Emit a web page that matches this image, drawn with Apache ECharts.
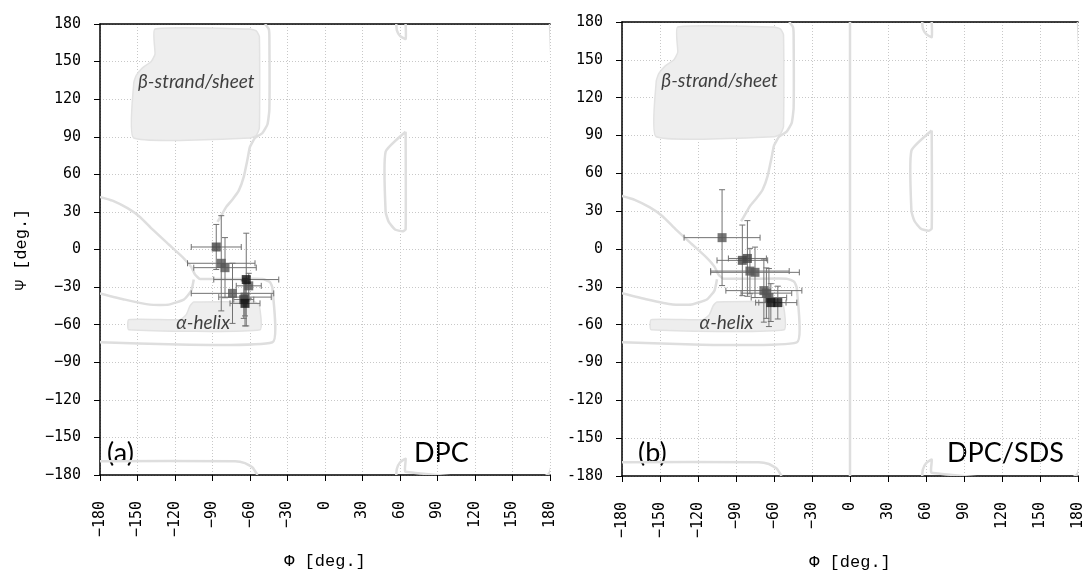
<!DOCTYPE html>
<html>
<head>
<meta charset="utf-8">
<script src="https://cdn.jsdelivr.net/npm/echarts@6/dist/echarts.min.js"></script>
<style>
  html, body { margin: 0; padding: 0; background: #fff; }
  #main { width: 1082px; height: 572px; }
</style>
</head>
<body>
<div id="main"></div>
<script>
// 面板 (a) DPC —— phi / psi 及误差
var phiA    = [-87, -83, -80, -61, -74, -64, -65, -63, -64];
var psiA    = [2, -11, -14.5, -29, -35, -38, -40, -24, -43];
var phiErrA = [20, 27, 25, 10, 33, 21, 8, 26, 12];
var psiErrA = [18, 38, 24, 10, 24, 15, 15, 37, 18];
var shadeA  = ['#444', '#555', '#555', '#555', '#555', '#555', '#444', '#111', '#111'];

// 面板 (b) DPC/SDS
var phiB    = [-101, -85, -81, -79, -75, -68, -66, -64, -62.5, -57];
var psiB    = [9, -9, -7.5, -17.5, -18.5, -33, -35, -38.5, -42.5, -42.5];
var phiErrB = [30, 20, 15, 31, 35, 30, 20, 14, 12, 15];
var psiErrB = [38, 28, 30, 18, 20, 25, 20, 23, 15, 13];
var shadeB  = ['#555', '#444', '#444', '#555', '#555', '#555', '#555', '#555', '#111', '#111'];

// 坐标轴刻度
var tickMin = -180, tickMax = 180, tickStep = 30;

// Ramachandran 背景区域 (phi, psi)
var betaFill = [[-136,176],[-60,176],[-55,174.5],[-52.5,170],[-52.5,97],[-55,91],[-60,89],[-153,89],
  [-153,133],[-151,139],[-146,145],[-139,150],[-136,156]];
var alphaFill = [[-157,-56],[-116,-56],[-111,-52],[-108,-45],[-105,-42],[-56,-42],[-52.5,-45],[-52,-64],[-157,-64]];
var outlineUpper = [[-48,180],[-45,176],[-44.5,170],[-44.5,112],[-46,100],[-50,93],[-56,89],[-60,82],
  [-62,72],[-65,58],[-69,47],[-74,40],[-79,34],[-83,27],[-86,22]];
var outlineAlpha = [[-180,42],[-170,39],[-158,33],[-148,26],[-138,16],[-125,4],[-113,-7],[-107,-14],
  [-104,-20],[-100,-23.5],[-50,-23.5],[-44,-26],[-42,-31],[-42,-74],[-180,-74]];
var innerAlpha = [[-180,-35],[-160,-40],[-140,-44],[-125,-44],[-113,-40],[-107,-33],[-105,-24]];
var dShape = [[64.5,94],[48.5,78],[48.5,30],[51,22],[56,16],[62,14.5],[64.5,16],[64.5,94]];
var topNotch = [[57,180],[57.5,175],[60,170.5],[64.5,168],[64.5,180]];
var bottomRight = [[57,-180],[57.5,-175],[60,-170],[64.5,-167],[64.5,-177.5],[180,-177.5],[180,180]];
var bottomLeft = [[-180,-169],[-72,-169],[-64,-170.5],[-58,-174],[-54,-180]];
var zeroLine = [[0,-180],[0,180]];

(function() {
  var myChart = echarts.init(document.getElementById('main'));

  var fills = [betaFill, alphaFill];
  var linesA = [outlineUpper, outlineAlpha, innerAlpha, dShape, topNotch, bottomRight, bottomLeft];
  var linesB = linesA.concat([zeroLine]);

  function minus(v) { return String(v).replace('-', '\u2212'); }

  function xAxisFor(g) {
    return [{
      gridIndex: g, type: 'value', min: tickMin, max: tickMax, interval: tickStep,
      name: 'Φ [deg.]', nameLocation: 'middle', nameGap: 78,
      nameTextStyle: { fontFamily: 'Liberation Mono', fontSize: 17, color: '#000' },
      axisLine: { onZero: false, lineStyle: { color: '#000', width: 1.5 } },
      axisTick: { length: 6, lineStyle: { color: '#000' } },
      axisLabel: { rotate: 90, margin: 26, fontFamily: 'DejaVu Sans Mono', fontSize: 15, color: '#000',
        formatter: minus },
      splitLine: { show: true, lineStyle: { color: '#c8c8c8', type: [1, 2] } }
    }, {
      gridIndex: g, type: 'value', min: tickMin, max: tickMax, position: 'top',
      axisLine: { onZero: false, lineStyle: { color: '#000', width: 1.5 } },
      axisTick: { show: false }, axisLabel: { show: false }, splitLine: { show: false }
    }];
  }

  function yAxisFor(g, withName, fmt) {
    var ax = {
      gridIndex: g, type: 'value', min: tickMin, max: tickMax, interval: tickStep,
      axisLine: { onZero: false, lineStyle: { color: '#000', width: 1.5 } },
      axisTick: { length: 6, lineStyle: { color: '#000' } },
      axisLabel: { margin: 19, fontFamily: 'DejaVu Sans Mono', fontSize: 15, color: '#000', formatter: fmt },
      splitLine: { show: true, lineStyle: { color: '#c8c8c8', type: [1, 2] } }
    };
    if (withName) {
      ax.name = 'Ψ [deg.]';
      ax.nameLocation = 'middle';
      ax.nameRotate = 90;
      ax.nameGap = 70;
      ax.nameTextStyle = { fontFamily: 'Liberation Mono', fontSize: 17, color: '#000' };
    }
    return ax;
  }

  // 背景区域（填充 + 轮廓线）
  function regionSeries(xi, yi, lines) {
    var shapes = fills.concat(lines);
    return {
      type: 'custom', xAxisIndex: xi, yAxisIndex: yi, z: 1, silent: true, clip: true,
      data: shapes.map(function(s, i) { return [i, 0]; }),
      renderItem: function(params, api) {
        var i = params.dataIndex;
        var pts = shapes[i].map(function(p) { return api.coord(p); });
        if (i < fills.length) {
          return { type: 'polygon', shape: { points: pts, smooth: 0.15 },
            style: { fill: '#eeeeee', stroke: '#e2e2e2', lineWidth: 1.5 } };
        }
        return { type: 'polyline', shape: { points: pts, smooth: 0.15 },
          style: { fill: null, stroke: '#dedede', lineWidth: 2.5 } };
      }
    };
  }

  // 误差棒
  function errorSeries(xi, yi, phi, psi, ePhi, ePsi) {
    return {
      type: 'custom', xAxisIndex: xi, yAxisIndex: yi, z: 2, silent: true,
      data: phi.map(function(p, i) { return [p, psi[i], ePhi[i], ePsi[i]]; }),
      encode: { x: 0, y: 1 },
      renderItem: function(params, api) {
        var x = api.value(0), y = api.value(1), ex = api.value(2), ey = api.value(3);
        var l = api.coord([x - ex, y]), r = api.coord([x + ex, y]);
        var t = api.coord([x, y + ey]), b = api.coord([x, y - ey]);
        var st = { stroke: '#727272', lineWidth: 1 };
        var c = 3;
        return { type: 'group', children: [
          { type: 'line', shape: { x1: l[0], y1: l[1], x2: r[0], y2: r[1] }, style: st },
          { type: 'line', shape: { x1: l[0], y1: l[1] - c, x2: l[0], y2: l[1] + c }, style: st },
          { type: 'line', shape: { x1: r[0], y1: r[1] - c, x2: r[0], y2: r[1] + c }, style: st },
          { type: 'line', shape: { x1: t[0], y1: t[1], x2: b[0], y2: b[1] }, style: st },
          { type: 'line', shape: { x1: t[0] - c, y1: t[1], x2: t[0] + c, y2: t[1] }, style: st },
          { type: 'line', shape: { x1: b[0] - c, y1: b[1], x2: b[0] + c, y2: b[1] }, style: st }
        ] };
      }
    };
  }

  function pointSeries(xi, yi, phi, psi, shade) {
    return {
      type: 'scatter', xAxisIndex: xi, yAxisIndex: yi, z: 3, symbol: 'rect', symbolSize: 9,
      data: phi.map(function(p, i) { return { value: [p, psi[i]], itemStyle: { color: shade[i] } }; })
    };
  }

  function labelSeries(xi, yi) {
    var ls = { show: true, position: 'inside', fontFamily: 'Lato', fontStyle: 'italic', fontSize: 19, color: '#111' };
    return {
      type: 'scatter', xAxisIndex: xi, yAxisIndex: yi, z: 2, symbolSize: 1, silent: true,
      itemStyle: { color: 'transparent' },
      data: [
        { value: [-103, 133.5], label: Object.assign({ formatter: 'β-strand/sheet' }, ls) },
        { value: [-97.5, -58.5], label: Object.assign({ formatter: 'α-helix' }, ls) }
      ]
    };
  }

  var option = {
    animation: false,
    backgroundColor: '#fff',
    grid: [
      { left: 100, top: 24, width: 450, height: 451, outerBoundsMode: 'none' },
      { left: 622, top: 22, width: 456, height: 454, outerBoundsMode: 'none' }
    ],
    xAxis: xAxisFor(0).concat(xAxisFor(1)),
    yAxis: [yAxisFor(0, true, minus), yAxisFor(1, false, null)],
    graphic: [
      { type: 'text', left: 107, top: 440, style: { text: '(a)', font: '27px Lato', fill: '#000' } },
      { type: 'text', left: 414, top: 440, style: { text: 'DPC', font: '27px Lato', fill: '#000' } },
      { type: 'text', left: 638, top: 440, style: { text: '(b)', font: '27px Lato', fill: '#000' } },
      { type: 'text', left: 947, top: 440, style: { text: 'DPC/SDS', font: '27px Lato', fill: '#000' } }
    ],
    series: [
      regionSeries(0, 0, linesA),
      labelSeries(0, 0),
      errorSeries(0, 0, phiA, psiA, phiErrA, psiErrA),
      pointSeries(0, 0, phiA, psiA, shadeA),
      regionSeries(2, 1, linesB),
      labelSeries(2, 1),
      errorSeries(2, 1, phiB, psiB, phiErrB, psiErrB),
      pointSeries(2, 1, phiB, psiB, shadeB)
    ]
  };
  myChart.setOption(option);
})();
</script>
</body>
</html>
